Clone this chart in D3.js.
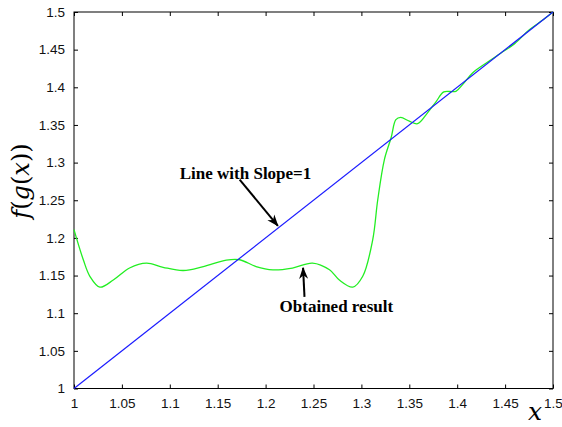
<!DOCTYPE html>
<html>
<head>
<meta charset="utf-8">
<script src="https://cdn.jsdelivr.net/npm/d3@7"></script>
<style>
  body { margin: 0; background: #fff; }
  svg { display: block; }
  .tick text { font-family: "Liberation Sans", Arial, sans-serif; font-size: 13.5px; fill: #111; }
  .note { font-family: "Liberation Serif", "Times New Roman", serif; font-weight: bold; font-size: 17px; fill: #000; }
  .math { font-family: "DejaVu Serif", serif; }
</style>
</head>
<body>
<div id="chart"></div>
<script>
const tickValues = [1, 1.05, 1.1, 1.15, 1.2, 1.25, 1.3, 1.35, 1.4, 1.45, 1.5];
const tickLabels = ["1", "1.05", "1.1", "1.15", "1.2", "1.25", "1.3", "1.35", "1.4", "1.45", "1.5"];

// reference line y = x
const slopeX = [1, 1.5];
const slopeY = [1, 1.5];

// obtained result (green)
const resultX = [1.0, 1.0097, 1.0167, 1.027, 1.041, 1.058, 1.0757, 1.093, 1.114, 1.135, 1.159, 1.173, 1.19, 1.2076, 1.228, 1.249, 1.2667, 1.277, 1.291, 1.3014, 1.3118, 1.317, 1.324, 1.331, 1.336, 1.341, 1.35, 1.3587, 1.369, 1.378, 1.386, 1.3986, 1.4056, 1.416, 1.43, 1.445, 1.46, 1.475, 1.49, 1.5];
const resultY = [1.211, 1.171, 1.1487, 1.1346, 1.144, 1.16, 1.1665, 1.161, 1.1567, 1.162, 1.1705, 1.171, 1.162, 1.1576, 1.16, 1.1665, 1.1576, 1.144, 1.1346, 1.149, 1.1975, 1.25, 1.304, 1.333, 1.357, 1.36, 1.355, 1.3517, 1.366, 1.381, 1.394, 1.3947, 1.4036, 1.419, 1.432, 1.445, 1.458, 1.476, 1.49, 1.5];

// annotations in data units: text anchor, arrow tail, arrow tip
const notes = [
  { text: "Line with Slope=1", tx: 1.1104, ty: 1.2786, ax: 1.1729, ay: 1.2773, bx: 1.2128, by: 1.2161 },
  { text: "Obtained result", tx: 1.2146, ty: 1.1017, ax: 1.2406, ay: 1.1217, bx: 1.2391, by: 1.1602 }
];

const W = 562, H = 427;
const margin = { top: 12, right: 9, bottom: 38.5, left: 74 };
const w = W - margin.left - margin.right;
const h = H - margin.top - margin.bottom;

const svg = d3.select("#chart").append("svg")
  .attr("width", W).attr("height", H);

svg.append("defs").append("marker")
  .attr("id", "head")
  .attr("viewBox", "0 -5 12 10")
  .attr("refX", 11).attr("refY", 0)
  .attr("markerWidth", 12).attr("markerHeight", 10)
  .attr("markerUnits", "userSpaceOnUse")
  .attr("orient", "auto")
  .append("path")
  .attr("d", "M0,-4.5L12,0L0,4.5L3.5,0Z")
  .attr("fill", "#000");

const g = svg.append("g").attr("transform", `translate(${margin.left},${margin.top})`);

const x = d3.scaleLinear().domain([1, 1.5]).range([0, w]);
const y = d3.scaleLinear().domain([1, 1.5]).range([h, 0]);

const fmt = (d) => tickLabels[tickValues.indexOf(d)];

const styleAxis = (sel) => {
  sel.select(".domain").remove();
  sel.selectAll(".tick line").attr("stroke", "#000");
};

g.append("g").attr("transform", `translate(0,${h})`)
  .call(d3.axisBottom(x).tickValues(tickValues).tickFormat(fmt).tickSizeInner(-4).tickSizeOuter(0).tickPadding(10))
  .call(styleAxis);
g.append("g")
  .call(d3.axisLeft(y).tickValues(tickValues).tickFormat(fmt).tickSizeInner(-4).tickSizeOuter(0).tickPadding(9))
  .call(styleAxis);
g.append("g")
  .call(d3.axisTop(x).tickValues(tickValues).tickFormat("").tickSizeInner(-4).tickSizeOuter(0))
  .call(styleAxis);
g.append("g").attr("transform", `translate(${w},0)`)
  .call(d3.axisRight(y).tickValues(tickValues).tickFormat("").tickSizeInner(-4).tickSizeOuter(0))
  .call(styleAxis);

g.append("rect")
  .attr("width", w).attr("height", h)
  .attr("fill", "none").attr("stroke", "#000").attr("stroke-width", 1);

const line = d3.line().x((d) => x(d[0])).y((d) => y(d[1]));

g.append("path")
  .datum(d3.zip(resultX, resultY))
  .attr("fill", "none").attr("stroke", "#22ee22").attr("stroke-width", 1.3)
  .attr("d", line.curve(d3.curveCatmullRom.alpha(0.5)));

g.append("path")
  .datum(d3.zip(slopeX, slopeY))
  .attr("fill", "none").attr("stroke", "#1a1aff").attr("stroke-width", 1.2)
  .attr("d", d3.line().x((d) => x(d[0])).y((d) => y(d[1]))(d3.zip(slopeX, slopeY)));

notes.forEach((n) => {
  g.append("text").attr("class", "note")
    .attr("x", x(n.tx)).attr("y", y(n.ty)).text(n.text);
  g.append("line")
    .attr("x1", x(n.ax)).attr("y1", y(n.ay))
    .attr("x2", x(n.bx)).attr("y2", y(n.by))
    .attr("stroke", "#000").attr("stroke-width", 2)
    .attr("marker-end", "url(#head)");
});

// axis labels
const yl = svg.append("text").attr("class", "math")
  .attr("transform", "translate(29,181) rotate(-90)")
  .attr("text-anchor", "middle")
  .style("font-size", "24px");
[["f", true], ["(", false], ["g", true], ["(", false], ["x", true], ["))", false]].forEach(([s, it]) => {
  yl.append("tspan").style("font-style", it ? "italic" : "normal").text(s);
});

svg.append("text").attr("class", "math")
  .attr("x", 535).attr("y", 420)
  .attr("text-anchor", "middle")
  .style("font-style", "italic")
  .style("font-size", "25px")
  .text("x");
</script>
</body>
</html>
